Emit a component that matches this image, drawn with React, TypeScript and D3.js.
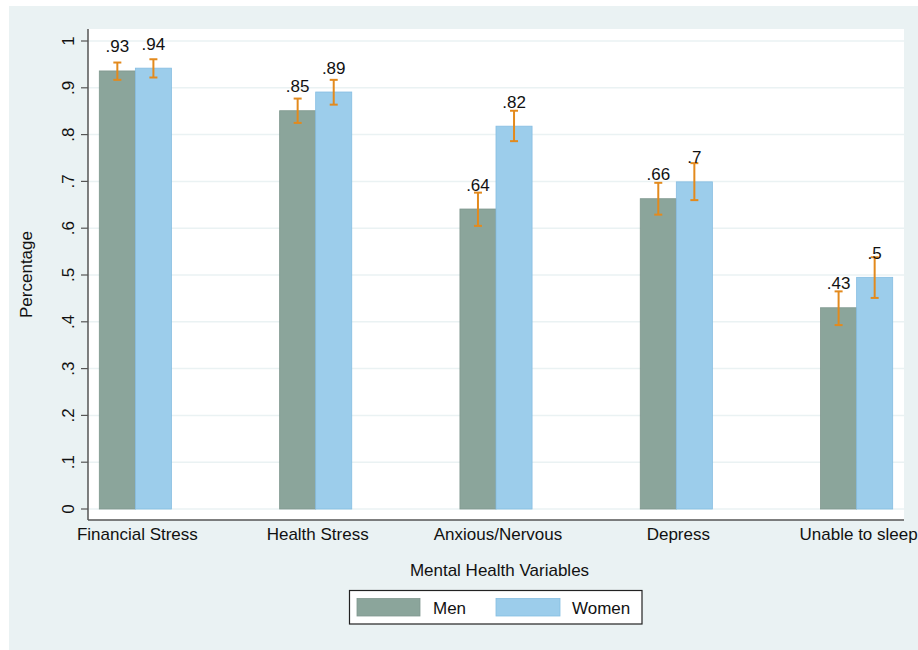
import React from "react";
import * as d3 from "d3";

const categories = ["Financial Stress", "Health Stress", "Anxious/Nervous", "Depress", "Unable to sleep"];
const seriesNames = ["Men", "Women"];
const menValues = [0.936, 0.851, 0.641, 0.663, 0.43];
const womenValues = [0.942, 0.891, 0.818, 0.699, 0.495];
const menLow = [0.917, 0.825, 0.605, 0.629, 0.393];
const menHigh = [0.954, 0.877, 0.676, 0.697, 0.465];
const womenLow = [0.922, 0.864, 0.786, 0.66, 0.451];
const womenHigh = [0.961, 0.917, 0.851, 0.739, 0.538];
const menLabels = [".93", ".85", ".64", ".66", ".43"];
const womenLabels = [".94", ".89", ".82", ".7", ".5"];
const yTicks = [0, 0.1, 0.2, 0.3, 0.4, 0.5, 0.6, 0.7, 0.8, 0.9, 1];
const yTickLabels = ["0", ".1", ".2", ".3", ".4", ".5", ".6", ".7", ".8", ".9", "1"];

const W = 918;
const H = 650;
const FONT = "'Liberation Sans', Arial, sans-serif";
const COLORS = ["#8ba59b", "#9ccdeb"];
const STROKES = ["#7f978e", "#86bde2"];
const ERR = "#e38a1d";
const GRID = "#eaf2f3";
const BG = "#eaf2f3";

export default function App() {
  const plotL = 88, plotR = 904, plotT = 29, plotB = 520;
  const y = d3.scaleLinear().domain([0, 1]).range([509, 41]);
  const x0 = d3.scaleBand<string>().domain(categories).range([plotL, plotR]).paddingInner(0.6).paddingOuter(0.0627);
  const x1 = d3.scaleBand<string>().domain(seriesNames).range([0, x0.bandwidth()]).padding(0);

  const series = [
    { name: "Men", values: menValues, low: menLow, high: menHigh, labels: menLabels },
    { name: "Women", values: womenValues, low: womenLow, high: womenHigh, labels: womenLabels },
  ];

  return (
    <svg width={W} height={H} style={{ position: "absolute", left: 0, top: 0 }} fontFamily={FONT}>
      <rect x={0} y={0} width={W} height={H} fill="#ffffff" />
      <rect x={9} y={6} width={W - 9} height={H - 6} fill={BG} />
      <rect x={plotL} y={plotT} width={plotR - plotL} height={plotB - plotT} fill="#ffffff" />
      {yTicks.map((t) => (
        <line key={"g" + t} x1={plotL} x2={plotR} y1={y(t)} y2={y(t)} stroke={GRID} strokeWidth={1.5} />
      ))}
      {categories.map((c, i) => (
        <g key={c}>
          {series.map((s, si) => {
            const bx = (x0(c) as number) + (x1(s.name) as number);
            const bw = x1.bandwidth();
            const cx = bx + bw / 2;
            return (
              <g key={s.name}>
                <rect x={bx} y={y(s.values[i])} width={bw} height={y(0) - y(s.values[i])} fill={COLORS[si]} stroke={STROKES[si]} strokeWidth={0.8} />
                <line x1={cx} x2={cx} y1={y(s.high[i])} y2={y(s.low[i])} stroke={ERR} strokeWidth={2} />
                <line x1={cx - 4} x2={cx + 4} y1={y(s.high[i])} y2={y(s.high[i])} stroke={ERR} strokeWidth={2} />
                <line x1={cx - 4} x2={cx + 4} y1={y(s.low[i])} y2={y(s.low[i])} stroke={ERR} strokeWidth={2} />
                <text x={cx} y={y(s.values[i]) - 18.5} textAnchor="middle" fontSize={17} fill="#111">{s.labels[i]}</text>
              </g>
            );
          })}
          <text x={(x0(c) as number) + x0.bandwidth() / 2 + 2} y={540} textAnchor="middle" fontSize={17} fill="#111">{c}</text>
        </g>
      ))}
      <line x1={plotL} x2={plotL} y1={plotT} y2={plotB} stroke="#555" strokeWidth={1.5} />
      <line x1={plotL} x2={plotR} y1={plotB} y2={plotB} stroke="#555" strokeWidth={1.5} />
      {yTicks.map((t, i) => (
        <g key={"t" + t}>
          <line x1={plotL - 7} x2={plotL} y1={y(t)} y2={y(t)} stroke="#555" strokeWidth={1.2} />
          <text transform={`translate(${74},${y(t)}) rotate(-90)`} textAnchor="middle" fontSize={17} fill="#111">{yTickLabels[i]}</text>
        </g>
      ))}
      <text transform={`translate(${32},${274.5}) rotate(-90)`} textAnchor="middle" fontSize={17} fill="#111">Percentage</text>
      <text x={(plotL + plotR) / 2 + 3.5} y={576} textAnchor="middle" fontSize={17} fill="#111">Mental Health Variables</text>
      <g>
        <rect x={349.5} y={590.5} width={292.5} height={33.5} fill="#ffffff" stroke="#222" strokeWidth={1.2} />
        <rect x={357} y={598.5} width={63} height={17.5} fill={COLORS[0]} stroke={STROKES[0]} strokeWidth={0.8} />
        <text x={433} y={614} fontSize={17} fill="#111">{seriesNames[0]}</text>
        <rect x={496} y={598.5} width={64} height={17.5} fill={COLORS[1]} stroke={STROKES[1]} strokeWidth={0.8} />
        <text x={572} y={614} fontSize={17} fill="#111">{seriesNames[1]}</text>
      </g>
    </svg>
  );
}
